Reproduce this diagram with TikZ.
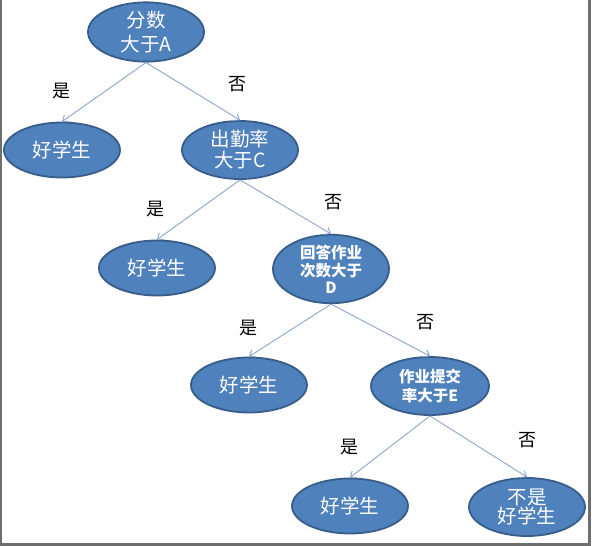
\documentclass[tikz,border=0pt]{standalone}
\usepackage{fontspec}
\setmainfont{Noto Sans CJK SC}
\usetikzlibrary{arrows.meta,shapes.geometric}
\definecolor{efill}{HTML}{4F81BD}
\definecolor{edraw}{HTML}{385D8A}
\definecolor{lcol}{HTML}{8AA6CE}
\definecolor{frame}{HTML}{6E6E6E}
\tikzset{
  enode/.style={ellipse, fill=efill, draw=edraw, line width=1.8pt, minimum width=116pt, minimum height=55pt, inner sep=0pt, text=white, align=center, font=\fontsize{19.5}{22}\selectfont},
  esmall/.style={font=\bfseries\fontsize{15.5}{18.5}\selectfont},
  conn/.style={draw=lcol, line width=0.9pt, -{Straight Barb[length=5pt,width=8pt]}},
  lab/.style={font=\fontsize{18}{20}\selectfont, text=black}
}
\begin{document}
\begin{tikzpicture}[x=1pt,y=-1pt]
\useasboundingbox (0,0) rectangle (592,546);
\fill[white] (0,0) rectangle (592,546);
\draw[frame, line width=2pt] (1,0) -- (1,544);
\draw[frame, line width=3pt] (589.5,0) -- (589.5,544.5) -- (0,544.5);
\node[enode, minimum height=58pt] (a) at (146,32) {分数\\[2pt]大于A};
\node[enode] (g1) at (62,150) {好学生};
\node[enode, minimum height=58pt] (c) at (240,150) {出勤率\\[-1pt]大于C};
\node[enode] (g2) at (157,268) {好学生};
\node[enode, esmall, minimum height=58pt] (d) at (331,269) {回答作业\\[-0pt]次数大于\\[-2pt]D};
\node[enode] (g3) at (249,385) {好学生};
\node[enode, esmall, minimum width=118pt, minimum height=58pt] (e) at (430,386) {作业提交\\[-0pt]率大于E};
\node[enode] (g4) at (350,506) {好学生};
\node[enode, minimum height=58pt] (n) at (527,507) {不是\\[-3pt]好学生};
\draw[conn] (a.south) -- (g1.north);
\draw[conn] (a.south) -- (c.north);
\draw[conn] (c.south) -- (g2.north);
\draw[conn] (c.south) -- (d.north);
\draw[conn] (d.south) -- (g3.north);
\draw[conn] (d.south) -- (e.north);
\draw[conn] (e.south) -- (g4.north);
\draw[conn] (e.south) -- (n.north);
\node[lab] (l1) at (61,91) {是};
\node[lab] (l2) at (237,84) {否};
\node[lab] (l3) at (155,209) {是};
\node[lab] (l4) at (333,202) {否};
\node[lab] (l5) at (248,328) {是};
\node[lab] (l6) at (425,322) {否};
\node[lab] (l7) at (349,447) {是};
\node[lab] (l8) at (527,440) {否};
\end{tikzpicture}
\end{document}
